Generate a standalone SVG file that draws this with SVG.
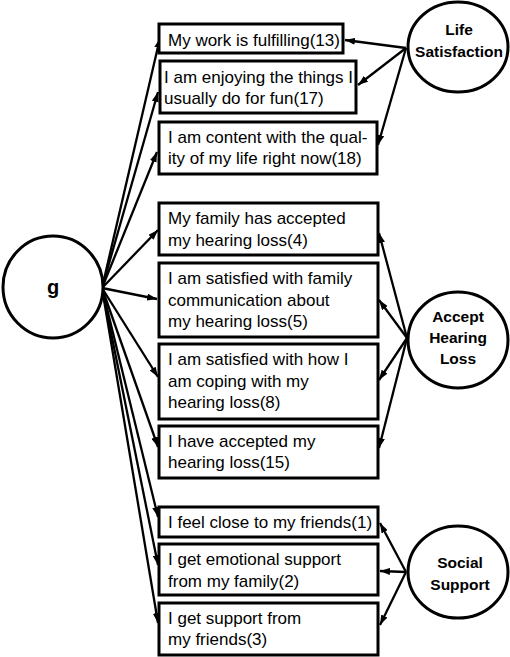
<svg xmlns="http://www.w3.org/2000/svg" width="510" height="657" viewBox="0 0 510 657">
<style>
.box{fill:#fff;stroke:#000;stroke-width:3}
.lat{fill:#fff;stroke:#000;stroke-width:3}
.t{font-family:"Liberation Sans",Arial,sans-serif;font-size:17px;fill:#000}
.lt{font-family:"Liberation Sans",Arial,sans-serif;font-size:15.5px;font-weight:bold;fill:#000;text-anchor:middle}
.e{fill:none;stroke:#000;stroke-width:2.3}
</style>
<defs>
<marker id="ah" viewBox="0 0 10 7" refX="10" refY="3.5" markerWidth="10" markerHeight="7" markerUnits="userSpaceOnUse" orient="auto">
<path d="M0,0 L10,3.5 L0,7 z" fill="#000"/>
</marker>
</defs>
<rect width="510" height="657" fill="#fff"/>
<g id="connectors">
<line class="e" x1="102" y1="288" x2="160" y2="38" marker-end="url(#ah)"/>
<line class="e" x1="102" y1="288" x2="158" y2="92" marker-end="url(#ah)"/>
<line class="e" x1="102" y1="288" x2="157" y2="152" marker-end="url(#ah)"/>
<line class="e" x1="102" y1="288" x2="158" y2="230" marker-end="url(#ah)"/>
<line class="e" x1="102" y1="288" x2="157" y2="299" marker-end="url(#ah)"/>
<line class="e" x1="102" y1="288" x2="158" y2="377" marker-end="url(#ah)"/>
<line class="e" x1="102" y1="288" x2="158" y2="447" marker-end="url(#ah)"/>
<line class="e" x1="102" y1="288" x2="158" y2="517" marker-end="url(#ah)"/>
<line class="e" x1="102" y1="288" x2="158" y2="565" marker-end="url(#ah)"/>
<line class="e" x1="102" y1="288" x2="158" y2="623" marker-end="url(#ah)"/>
<line class="e" x1="406" y1="48" x2="345" y2="40" marker-end="url(#ah)"/>
<line class="e" x1="406" y1="48" x2="358" y2="85" marker-end="url(#ah)"/>
<line class="e" x1="406" y1="48" x2="378" y2="145" marker-end="url(#ah)"/>
<line class="e" x1="407" y1="338" x2="379" y2="233" marker-end="url(#ah)"/>
<line class="e" x1="407" y1="338" x2="379" y2="300" marker-end="url(#ah)"/>
<line class="e" x1="407" y1="338" x2="379" y2="380" marker-end="url(#ah)"/>
<line class="e" x1="407" y1="338" x2="379" y2="448" marker-end="url(#ah)"/>
<line class="e" x1="406" y1="572" x2="380" y2="523" marker-end="url(#ah)"/>
<line class="e" x1="406" y1="572" x2="380" y2="571" marker-end="url(#ah)"/>
<line class="e" x1="406" y1="572" x2="380" y2="625" marker-end="url(#ah)"/>
</g>
<g id="g">
<ellipse class="lat" cx="53" cy="287" rx="50" ry="51"/>
<text class="lt" x="53" y="294" style="font-size:20px">g</text>
</g>
<g id="life-satisfaction">
<ellipse class="lat" cx="458" cy="47" rx="50" ry="45"/>
<text class="lt" x="459" y="35">Life</text>
<text class="lt" x="459" y="57">Satisfaction</text>
</g>
<g id="accept-hearing-loss">
<ellipse class="lat" cx="458" cy="340" rx="50" ry="48"/>
<text class="lt" x="458" y="322">Accept</text>
<text class="lt" x="458" y="343">Hearing</text>
<text class="lt" x="458" y="364">Loss</text>
</g>
<g id="social-support">
<ellipse class="lat" cx="458" cy="572" rx="50" ry="46"/>
<text class="lt" x="460" y="568">Social</text>
<text class="lt" x="460" y="590">Support</text>
</g>
<g id="item13">
<rect class="box" x="159" y="24" width="184" height="29"/>
<text class="t" x="168" y="46">My work is fulfilling(13)</text>
</g>
<g id="item17">
<rect class="box" x="160" y="61" width="196" height="52"/>
<text class="t" x="164" y="83">I am enjoying the things I</text>
<text class="t" x="164" y="104">usually do for fun(17)</text>
</g>
<g id="item18">
<rect class="box" x="159" y="122" width="218" height="52"/>
<text class="t" x="168" y="143">I am content with the qual-</text>
<text class="t" x="168" y="164">ity of my life right now(18)</text>
</g>
<g id="item4">
<rect class="box" x="159" y="203" width="219" height="52"/>
<text class="t" x="168" y="224">My family has accepted</text>
<text class="t" x="168" y="246">my hearing loss(4)</text>
</g>
<g id="item5">
<rect class="box" x="159" y="263" width="219" height="74"/>
<text class="t" x="168" y="284">I am satisfied with family</text>
<text class="t" x="168" y="306">communication about</text>
<text class="t" x="168" y="327">my hearing loss(5)</text>
</g>
<g id="item8">
<rect class="box" x="159" y="344" width="219" height="75"/>
<text class="t" x="168" y="365">I am satisfied with how I</text>
<text class="t" x="168" y="387">am coping with my</text>
<text class="t" x="168" y="408">hearing loss(8)</text>
</g>
<g id="item15">
<rect class="box" x="159" y="426" width="219" height="52"/>
<text class="t" x="168" y="447">I have accepted my</text>
<text class="t" x="168" y="468">hearing loss(15)</text>
</g>
<g id="item1">
<rect class="box" x="159" y="507" width="219" height="30"/>
<text class="t" x="168" y="528">I feel close to my friends(1)</text>
</g>
<g id="item2">
<rect class="box" x="159" y="544" width="219" height="51"/>
<text class="t" x="168" y="565">I get emotional support</text>
<text class="t" x="168" y="587">from my family(2)</text>
</g>
<g id="item3">
<rect class="box" x="159" y="603" width="219" height="52"/>
<text class="t" x="168" y="624">I get support from</text>
<text class="t" x="168" y="645">my friends(3)</text>
</g>
</svg>
